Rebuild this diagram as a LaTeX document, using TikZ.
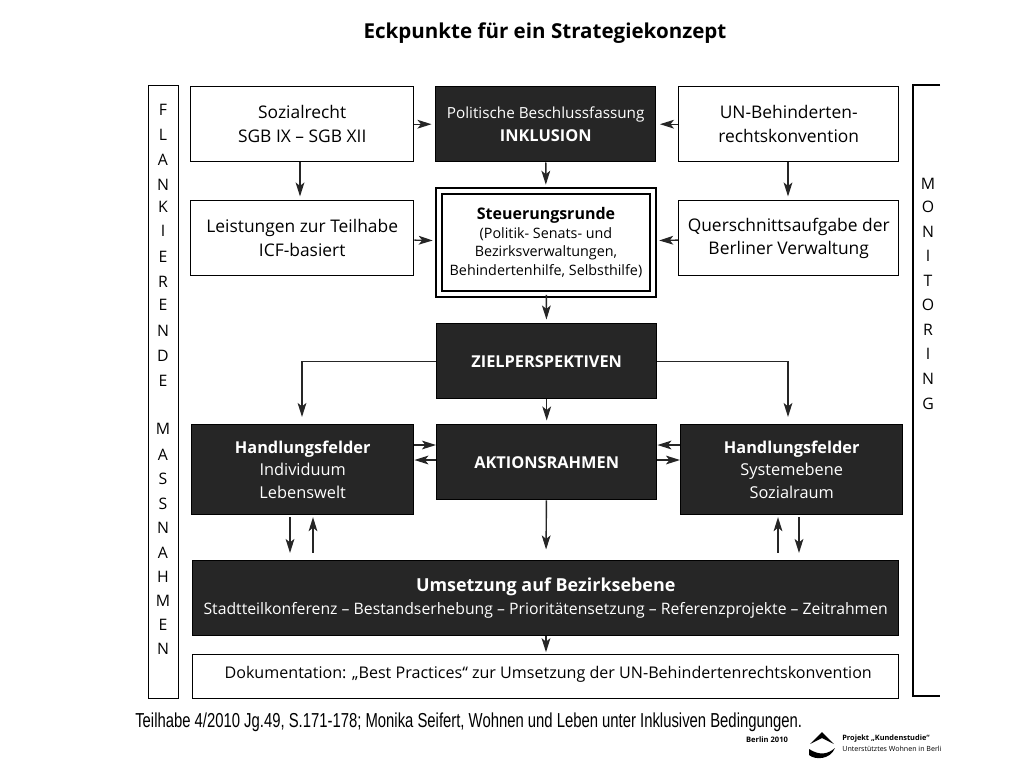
\documentclass[tikz,border=0pt]{standalone}
\usepackage{fontspec}
\setmainfont{Open Sans}
\newfontfamily\capfont{Liberation Sans}
\usepackage{tikz}
\usetikzlibrary{arrows.meta, shapes.geometric}

\begin{document}
\begin{tikzpicture}[x=0.02cm, y=-0.02cm]
        % Styles for the boxes
        \tikzstyle{lightbox} = [rectangle, draw, thick, anchor=north west, align=center, inner sep=0pt, font=\fontsize{9.9}{13.4}\selectfont]
        \tikzstyle{darkbox} = [lightbox, fill=black!85, text=white, font=\fontsize{9.3}{12.8}\selectfont]
        \tikzstyle{letter} = [inner sep=0pt, font=\fontsize{9}{11}\selectfont]
        \tikzstyle{arrow} = [thick, black!85, -{Stealth[length=8pt, width=5pt, inset=2pt]}]
        \path[use as bounding box] (0,0) rectangle (1024,768);

        % Title
        \node (title) [inner sep=0pt, font=\fontsize{11.7}{14}\selectfont\bfseries] at (545,33) {Eckpunkte für ein Strategiekonzept};

        % Top row
        \node (sozial) [lightbox, minimum width=223*0.02cm, minimum height=75*0.02cm] at (190,86) {Sozialrecht\\SGB IX -- SGB XII};
        \node (politik) [darkbox, minimum width=220*0.02cm, minimum height=75*0.02cm] at (435,86) {{\fontsize{8.7}{12.8}\selectfont Politische Beschlussfassung}\\\textbf{INKLUSION}};
        \node (unkonv) [lightbox, minimum width=220*0.02cm, minimum height=75*0.02cm] at (678,86) {UN-Behinderten-\\rechtskonvention};

        % Second row
        \node (leistung) [lightbox, minimum width=223*0.02cm, minimum height=75*0.02cm] at (190,200) {Leistungen zur Teilhabe\\ICF-basiert};
        \node (steuerung) [lightbox, double, line width=1.1pt, double distance=2pt, minimum width=214*0.02cm, minimum height=103*0.02cm, font=\fontsize{8.15}{10.6}\selectfont] at (438,190) {{\fontsize{9.1}{10.6}\selectfont\textbf{Steuerungsrunde}}\\(Politik- Senats- und\\Bezirksverwaltungen,\\Behindertenhilfe, Selbsthilfe)};
        \node (quer) [lightbox, minimum width=220*0.02cm, minimum height=75*0.02cm] at (678,200) {Querschnittsaufgabe der\\Berliner Verwaltung};

        % Middle
        \node (ziel) [darkbox, minimum width=220*0.02cm, minimum height=75*0.02cm] at (436,323) {\textbf{ZIELPERSPEKTIVEN}};
        \node (feldlinks) [darkbox, minimum width=222*0.02cm, minimum height=90*0.02cm] at (191,424) {\textbf{Handlungsfelder}\\Individuum\\Lebenswelt};
        \node (aktion) [darkbox, minimum width=220*0.02cm, minimum height=75*0.02cm] at (436,424) {\textbf{AKTIONSRAHMEN}};
        \node (feldrechts) [darkbox, minimum width=222*0.02cm, minimum height=90*0.02cm] at (680,424) {\textbf{Handlungsfelder}\\Systemebene\\Sozialraum};

        % Bottom
        \node (umsetzung) [darkbox, minimum width=706*0.02cm, minimum height=75*0.02cm, font=\fontsize{8.98}{13.4}\selectfont] at (192,560) {{\fontsize{10.2}{13.4}\selectfont\textbf{Umsetzung auf Bezirksebene}}\\Stadtteilkonferenz -- Bestandserhebung -- Prioritätensetzung -- Referenzprojekte -- Zeitrahmen};
        \node (doku) [lightbox, minimum width=706*0.02cm, minimum height=44*0.02cm, font=\fontsize{9.16}{12}\selectfont] at (192,654) {\raisebox{-0.8pt}[0pt][0pt]{\hspace*{0.1cm}Dokumentation: „Best Practices“ zur Umsetzung der UN-Behindertenrechtskonvention}};

        % Side frames
        \node (flanke) [lightbox, minimum width=30*0.02cm, minimum height=613*0.02cm] at (148,85) {};
        \coordinate (montop) at (940,85);
        \coordinate (monbot) at (940,696);
        \draw [thick] (montop) -- (913,85) -- (913,696) -- (monbot);

        % Side letters
        \foreach \letter/\ypos [count=\i] in {F/110,L/135,A/160,N/185,K/207,I/231,E/257,R/282,E/305,N/331,D/356,E/381,M/429,A/455,S/479,S/504,N/528,A/553,H/577,M/601,E/625,N/649}
            \node (flank\i) [letter] at (163,\ypos) {\letter};
        \foreach \letter/\ypos [count=\i] in {M/184,O/207,N/232,I/256,T/281,O/305,R/330,I/354,N/379,G/404}
            \node (moni\i) [letter] at (928,\ypos) {\letter};

        % Arrows
        \draw [arrow, shorten >=2pt] (sozial) -- (politik);
        \draw [arrow, shorten >=2pt] (unkonv) -- (politik);
        \draw [arrow, shorten >=2pt] (sozial.south -| 300,0) -- (leistung.north -| 300,0);
        \draw [arrow, shorten >=2pt] (unkonv.south -| 788,0) -- (quer.north -| 788,0);
        \draw [arrow, shorten >=3pt] (politik) -- (steuerung);
        \draw [arrow, shorten >=3pt] (leistung) -- (steuerung);
        \draw [arrow, shorten >=3pt] (quer) -- (steuerung);
        \draw [arrow, shorten >=2pt] (steuerung) -- (ziel);
        \draw [arrow, shorten >=2pt] (ziel) -- (aktion);
        \draw [arrow, shorten >=4pt] (ziel.west) -| (302,424);
        \draw [arrow, shorten >=4pt] (ziel.east) -| (788,424);
        \draw [arrow] (feldlinks.east |- 0,445) -- (aktion.west |- 0,445);
        \draw [arrow] (aktion.west |- 0,460) -- (feldlinks.east |- 0,460);
        \draw [arrow] (feldrechts.west |- 0,445) -- (aktion.east |- 0,445);
        \draw [arrow] (aktion.east |- 0,460) -- (feldrechts.west |- 0,460);
        \draw [arrow, shorten >=6pt] (aktion) -- (umsetzung);
        \draw [arrow, shorten <=1pt, shorten >=4pt] (feldlinks.south -| 290,0) -- (umsetzung.north -| 290,0);
        \draw [arrow, shorten <=4pt, shorten >=1pt] (umsetzung.north -| 313,0) -- (feldlinks.south -| 313,0);
        \draw [arrow, shorten <=4pt, shorten >=1pt] (umsetzung.north -| 778,0) -- (feldrechts.south -| 778,0);
        \draw [arrow, shorten <=1pt, shorten >=4pt] (feldrechts.south -| 799,0) -- (umsetzung.north -| 799,0);
        \draw [arrow, shorten >=1pt] (umsetzung.south -| 546,0) -- (doku.north -| 546,0);

        % Source line and project mark
        \node (quelle) [inner sep=0pt, anchor=west, xscale=0.735, font=\fontsize{11.5}{13}\selectfont\capfont] at (135,722) {Teilhabe 4/2010 Jg.49, S.171-178; Monika Seifert, Wohnen und Leben unter Inklusiven Bedingungen.};
        \node (berlin) [inner sep=0pt, font=\fontsize{4.3}{6}\selectfont\bfseries] at (767,740) {Berlin 2010};
        \node (projekt) [inner sep=0pt, anchor=west, font=\fontsize{4.2}{6}\selectfont\bfseries] at (842,739) {Projekt „Kundenstudie“};
        \node (betreut) [inner sep=0pt, anchor=west, font=\fontsize{4.03}{6}\selectfont] at (842,749) {Unterstütztes Wohnen in Berli};
        \fill (810,744) -- (822,732) -- (834,744) -- (822,738) -- cycle;
        \fill (809,749) .. controls (820,756) and (828,754) .. (835,748) .. controls (830,760) and (815,760) .. (809,755) -- cycle;
\end{tikzpicture}
\end{document}
